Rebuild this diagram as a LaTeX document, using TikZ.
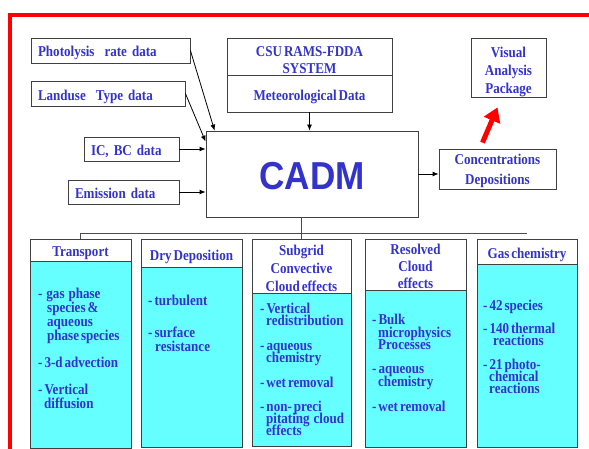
\documentclass[tikz,border=0pt]{standalone}
\usepackage{fontspec}
\setmainfont{Liberation Serif}[FakeStretch=0.87, WordSpace=0.6]
\newfontfamily\cadmfont{Liberation Sans}[FakeStretch=0.9]
\usetikzlibrary{arrows.meta}

\definecolor{cadmblue}{RGB}{51,51,204}
\definecolor{boxcyan}{RGB}{102,255,255}

% lines closer than the font height, as in the original slide
\newcommand{\tightlines}{\setlength{\lineskiplimit}{-100pt}\setlength{\lineskip}{0pt}}

\tikzset{
    % Box styles - plain frames, blue bold text
    data box/.style={rectangle, draw=black!75, line width=0.8pt, fill=white, inner sep=0pt,
        text=cadmblue, font=\fontsize{15}{17}\selectfont\bfseries},
    left text/.style={align=left, inner xsep=7pt, text width=#1, text height=13pt, text depth=0pt},
    head box/.style={data box, align=center, font=\fontsize{15}{#1}\selectfont\bfseries},
    body box/.style={rectangle, draw=black!75, line width=0.8pt, fill=boxcyan, inner sep=0pt},
    body text/.style={anchor=north west, align=left, inner sep=0pt, text=cadmblue,
        font=\fontsize{15}{#1}\selectfont\bfseries\tightlines},
    % Connector styles
    link/.style={-{Latex[length=6pt,width=5pt]}, black, line width=0.8pt},
    tree/.style={black!70, line width=0.8pt},
    big arrow/.style={-{Triangle[length=14pt,width=17pt]}, red, line width=5pt},
    red frame/.style={red, line width=4pt},
}

\begin{document}
\begin{tikzpicture}[x=1pt,y=-1pt]
    \useasboundingbox (0,0) rectangle (589,449);

    % Red frame
    \draw[red frame] (10,455) -- (10,15) -- (595,15);

    % Input data boxes
    \node[data box, left text=145pt, minimum height=25pt] (photo) at (110.5,50.5) {Photolysis\ \ rate data};
    \node[data box, left text=140pt, minimum height=25pt, text height=14pt] (landuse) at (108,93.5) {Landuse\ \ Type data};
    \node[data box, left text=81pt, minimum height=24pt] (icbc) at (131.5,149) {IC, BC data};
    \node[data box, left text=97pt, minimum height=24pt] (emission) at (123.5,192) {Emission data};

    % Meteorology
    \node[head box=17, minimum width=165pt, minimum height=37pt] (csu) at (309.5,56.5) {\rule{0pt}{16.5pt}CSU RAMS-FDDA\\SYSTEM};
    \node[data box, minimum width=165pt, minimum height=37pt, text height=15pt, text depth=0pt] (met) at (309.5,93.5) {Meteorological Data};

    % Model
    \node[data box, minimum width=212pt, minimum height=86pt, text height=32pt, text depth=0pt,
        font=\cadmfont\bfseries\fontsize{39}{39}\selectfont] (cadm) at (312,174) {CADM};

    % Output
    \node[head box=20, minimum width=117pt, minimum height=40pt] (conc) at (497.5,169) {\rule{0pt}{14.5pt}Concentrations\\Depositions};
    \node[head box=18, minimum width=75pt, minimum height=59pt] (visual) at (508.5,67.5) {\rule{0pt}{18.5pt}Visual\\Analysis\\Package};

    % Arrows into and out of the model
    \draw[link] (photo.east) -- ([xshift=9pt]cadm.north west);
    \draw[link] (landuse.east) -- ([yshift=-11pt]cadm.north west);
    \draw[link] (icbc.east) -- (icbc.east -| cadm.west);
    \draw[link] (emission.east) -- (emission.east -| cadm.west);
    \draw[link] (met.south) -- (met.south |- cadm.north);
    \draw[link] (cadm.east) -- (cadm.east -| conc.west);
    \draw[big arrow] ([xshift=-15pt,yshift=6pt]conc.north) -- ([xshift=-11pt,yshift=-10pt]visual.south);

    % Process modules
    \node[body box, minimum width=101pt, minimum height=187pt] (transbody) at (80.5,354.5) {};
    \node[head box=17, minimum width=101pt, minimum height=22pt, text height=14pt, text depth=0pt] (transhead) at (80.5,250) {Transport};
    \node[body box, minimum width=101pt, minimum height=180pt] (drybody) at (191.5,357) {};
    \node[head box=17, minimum width=101pt, minimum height=28pt, text height=14pt, text depth=0pt] (dryhead) at (191.5,253) {Dry Deposition};
    \node[body box, minimum width=99pt, minimum height=153pt] (subbody) at (301.5,369.5) {};
    \node[head box=18, minimum width=99pt, minimum height=54pt] (subhead) at (301.5,266) {\rule{0pt}{14.5pt}Subgrid\\Convective\\Cloud effects};
    \node[body box, minimum width=101pt, minimum height=157pt] (resbody) at (415.5,368.5) {};
    \node[head box=17, minimum width=101pt, minimum height=51pt] (reshead) at (415.5,264.5) {\rule{0pt}{14.5pt}Resolved\\Cloud\\effects};
    \node[body box, minimum width=100pt, minimum height=183pt] (gasbody) at (527,355.5) {};
    \node[head box=17, minimum width=100pt, minimum height=25pt, text height=14pt, text depth=0pt] (gashead) at (527,251.5) {Gas chemistry};

    % Module contents
    \node[body text=14] (transtext) at (38,288) {-\ \ gas\ \ phase\\
        \hspace*{9pt}species \&\\
        \hspace*{9pt}aqueous\\
        \hspace*{9pt}phase species\\[13pt]
        - 3-d advection\\[13pt]
        - Vertical\\
        \hspace*{6pt}diffusion};
    \node[body text=14] (drytext) at (148,295) {- turbulent\\[18pt]
        - surface\\
        \hspace*{7pt}resistance};
    \node[body text=12] (subtext) at (260,303) {- Vertical\\
        \hspace*{6pt}redistribution\\[13pt]
        - aqueous\\
        \hspace*{6pt}chemistry\\[13pt]
        - wet removal\\[12pt]
        - non- preci\\
        \hspace*{6pt}pitating\ \ cloud\\
        \hspace*{6pt}effects};
    \node[body text=12.5] (restext) at (372,314) {- Bulk\\
        \hspace*{6pt}microphysics\\
        \hspace*{6pt}Processes\\[11.5pt]
        - aqueous\\
        \hspace*{6pt}chemistry\\[13pt]
        - wet removal};
    \node[body text=12] (gastext) at (483,300) {- 42 species\\[11pt]
        - 140 thermal\\
        \hspace*{10pt}reactions\\[12pt]
        - 21 photo-\\
        \hspace*{6pt}chemical\\
        \hspace*{6pt}reactions};

    % Tree from the model to the modules
    \coordinate (bus) at (0,233);
    \draw[tree] (subhead.north |- cadm.south) -- (subhead.north);
    \draw[tree] (transhead.north) -- (transhead.north |- bus) -- (gashead.north |- bus);
\end{tikzpicture}
\end{document}
